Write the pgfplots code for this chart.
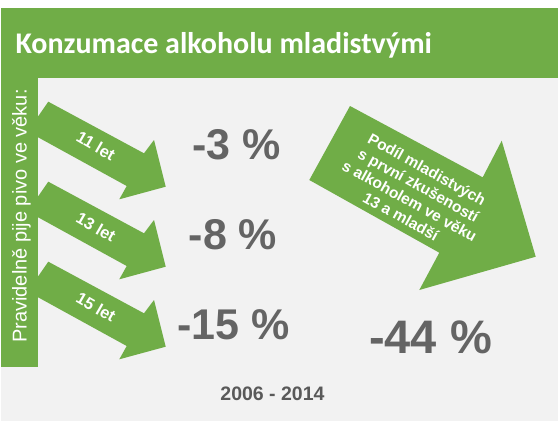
\documentclass[border=0pt]{standalone}
\usepackage{pgfplots}
\pgfplotsset{compat=1.18}
\usepackage{fontspec}
\setmainfont{Liberation Sans}
\newfontfamily\calibri{Carlito}
\definecolor{agreen}{RGB}{112,173,71}
\definecolor{bggray}{RGB}{242,242,242}
\definecolor{txtgray}{RGB}{100,100,100}
\definecolor{txtdark}{RGB}{89,89,89}
\begin{document}
\begin{tikzpicture}
\begin{axis}[
  width=558pt, height=421pt, scale only axis,
  xmin=0, xmax=558, ymin=0, ymax=421, y dir=reverse,
  hide axis, clip=false,
]
% backgrounds
\addplot[fill=white, draw=none] coordinates {(0,0) (558,0) (558,421) (0,421)} -- cycle;
\addplot[fill=bggray, draw=none] coordinates {(1,8) (558,8) (558,421) (1,421)} -- cycle;
\addplot[fill=agreen, draw=none] coordinates {(1,8) (558,8) (558,78) (1,78)} -- cycle;
\addplot[fill=agreen, draw=none] coordinates {(1,78) (37.5,78) (37.5,367) (1,367)} -- cycle;
% small arrows
\addplot[fill=agreen, draw=none] coordinates {(48.3,101.7) (144,153.3) (154,140) (165.7,186.7) (119.3,199.3) (126.7,186) (37,136.7) (37,118)} -- cycle;
\addplot[fill=agreen, draw=none] coordinates {(48.3,181.7) (144,233.3) (154,220) (165.7,266.7) (119.3,279.3) (126.7,266) (37,216.7) (37,198)} -- cycle;
\addplot[fill=agreen, draw=none] coordinates {(48.3,261.7) (144,313.3) (154,300) (165.7,346.7) (119.3,359.3) (126.7,346) (37,296.7) (37,278)} -- cycle;
% big arrow
\addplot[fill=agreen, draw=none] coordinates {(350,106) (482.7,177.3) (501.7,140.7) (535.7,256.7) (419.3,290) (439.3,252.7) (309.3,180)} -- cycle;
% texts
\node[anchor=base west, text=white, font=\calibri\bfseries\fontsize{30}{36}\selectfont] at (axis cs:12,53.5) {Konzumace alkoholu mladistvými};
\node[rotate=90, text=white, font=\fontsize{20}{24}\selectfont] at (axis cs:21.5,216) {Pravidelně pije pivo ve věku:};
\node[rotate=-30, text=white, font=\bfseries\fontsize{16.5}{19}\selectfont] at (axis cs:96,146) {11 let};
\node[rotate=-30, text=white, font=\bfseries\fontsize{16.5}{19}\selectfont] at (axis cs:96,227) {13 let};
\node[rotate=-30, text=white, font=\bfseries\fontsize{16.5}{19}\selectfont] at (axis cs:96,307) {15 let};
\node[text=txtgray, font=\bfseries\fontsize{43}{48}\selectfont] at (axis cs:236.5,145) {-3 \%};
\node[text=txtgray, font=\bfseries\fontsize{43}{48}\selectfont] at (axis cs:233,235) {-8 \%};
\node[text=txtgray, font=\bfseries\fontsize{43}{48}\selectfont] at (axis cs:233.5,325) {-15 \%};
\node[text=txtgray, font=\bfseries\fontsize{47}{54}\selectfont] at (axis cs:430.5,337) {-44 \%};
\node[rotate=-29, align=center, text=white, font=\bfseries\fontsize{15.5}{18}\selectfont] at (axis cs:414,193) {Podíl mladistvých\\s první zkušeností\\s alkoholem ve věku\\13 a mladší};
\node[text=txtdark, font=\bfseries\fontsize{19.5}{23}\selectfont] at (axis cs:272.5,393.5) {2006 - 2014};
\end{axis}
\end{tikzpicture}
\end{document}
